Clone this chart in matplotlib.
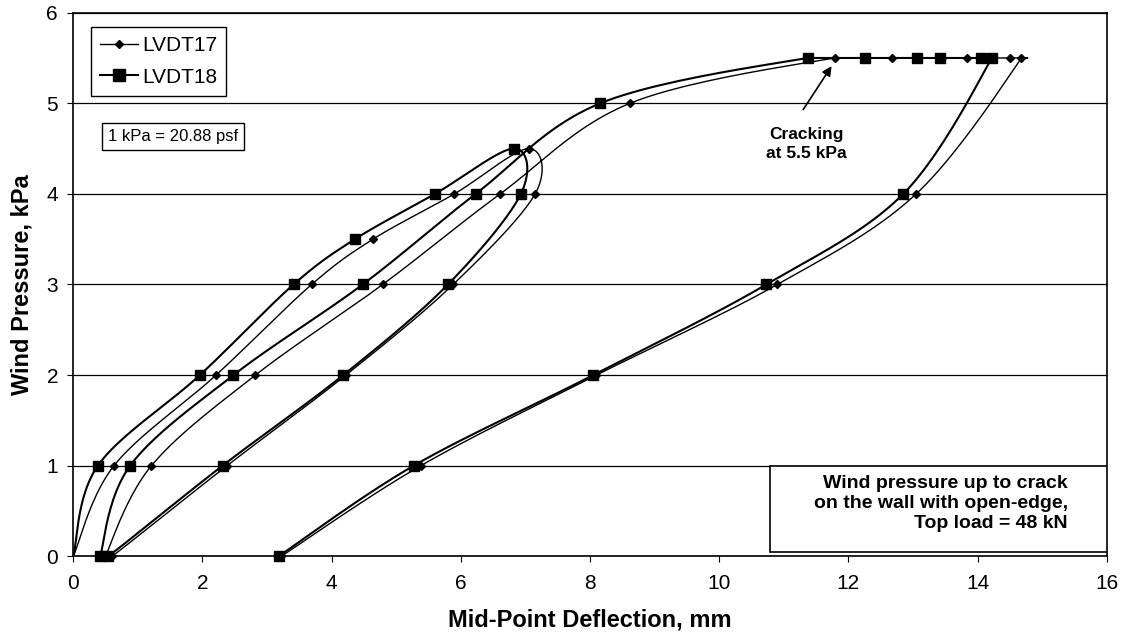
import numpy as np
import matplotlib
matplotlib.use("Agg")
from matplotlib import pyplot as plt
from matplotlib.lines import Line2D
from matplotlib.patches import Rectangle

plt.rcParams['font.family'] = ['Liberation Sans', 'DejaVu Sans']

# load history: cycle 1 up to 4.5 kPa and back, cycle 2 up to cracking and back
pressure = [0, 1, 2, 3, 3.5, 4, 4.5, 4, 3, 2, 1, 0,
            0, 1, 2, 3, 4, 5, 5.5, 5.5, 5.5, 5.5, 5.5, 5.5, 4, 3, 2, 1, 0]
lvdt17 = [0.00, 0.63, 2.21, 3.69, 4.64, 5.90, 7.05, 7.15, 5.88, 4.22, 2.38, 0.60,
          0.50, 1.21, 2.82, 4.79, 6.61, 8.62, 11.79, 12.67, 13.45, 13.83, 14.50, 14.68,
          13.05, 10.90, 8.10, 5.38, 3.22]
lvdt18 = [0.00, 0.38, 1.96, 3.41, 4.36, 5.60, 6.82, 6.93, 5.80, 4.18, 2.31, 0.54,
          0.42, 0.88, 2.48, 4.48, 6.23, 8.16, 11.37, 12.26, 13.07, 13.42, 14.05, 14.22,
          12.85, 10.73, 8.05, 5.27, 3.18]

def smooth(x, y, n=25):
    # excel-style smoothed line (bezier through the points), flat runs kept flat
    pts = np.column_stack([x, y]).astype(float)
    out = [pts[0]]
    t = np.linspace(0, 1, n)[1:, None]
    for i in range(len(pts) - 1):
        p0 = pts[i - 1] if i > 0 else pts[i]
        p1 = pts[i]
        p2 = pts[i + 1]
        p3 = pts[i + 2] if i + 2 < len(pts) else pts[i + 1]
        c1 = p1 + (p2 - p0) / 6
        c2 = p2 - (p3 - p1) / 6
        if p1[1] == p2[1] and p1[1] != 0:
            c1[1] = p1[1]
            c2[1] = p1[1]
        seg = (1-t)**3*p1 + 3*(1-t)**2*t*c1 + 3*(1-t)*t**2*c2 + t**3*p2
        out.extend(seg)
    out = np.array(out)
    return out[:, 0], out[:, 1]

fig = plt.figure(figsize=(11.26, 6.4), dpi=100)
ax = fig.add_axes([0.0651, 0.1308, 0.9178, 0.8494])

sx, sy = smooth(lvdt17, pressure)
ax.plot(sx, sy, color='k', lw=1.0, zorder=3)
ax.plot(lvdt17, pressure, ls='none', marker='D', ms=4, color='k', zorder=4,
        markevery=slice(1, None), clip_on=False)

sx, sy = smooth(lvdt18, pressure)
ax.plot(sx, sy, color='k', lw=1.5, zorder=3)
ax.plot(lvdt18, pressure, ls='none', marker='s', ms=7, color='k', zorder=4,
        markevery=slice(1, None), clip_on=False)

ax.set_xlim(0, 16)
ax.set_ylim(0, 6)
ax.set_xticks(range(0, 17, 2))
ax.set_yticks(range(0, 7))
ax.yaxis.grid(True, color='k', lw=0.9)
ax.set_axisbelow(True)
ax.tick_params(axis='x', direction='out', length=4, pad=9, labelsize=15)
ax.tick_params(axis='y', direction='out', length=4, pad=7, labelsize=15)
for s in ax.spines.values():
    s.set_color('k')
    s.set_linewidth(1.2)

ax.set_xlabel('Mid-Point Deflection, mm', fontsize=17, fontweight='bold', labelpad=11)
ax.set_ylabel('Wind Pressure, kPa', fontsize=17, fontweight='bold', labelpad=9)

handles = [Line2D([], [], color='k', lw=1.0, marker='D', ms=4),
           Line2D([], [], color='k', lw=1.5, marker='s', ms=8)]
leg = ax.legend(handles, ['LVDT17', 'LVDT18'], loc='upper left',
                bbox_to_anchor=(0.017, 0.974), borderaxespad=0, fontsize=15,
                fancybox=False, framealpha=1, edgecolor='k', handlelength=1.8,
                handletextpad=0.2, labelspacing=0.6, borderpad=0.45)
leg.get_frame().set_linewidth(1.0)

ax.text(1.54, 4.63, '1 kPa = 20.88 psf', fontsize=12, ha='center', va='center',
        bbox=dict(boxstyle='square,pad=0.35', fc='white', ec='k', lw=1.0))

ax.annotate('', xy=(11.74, 5.41), xytext=(11.3, 4.93),
            arrowprops=dict(arrowstyle='-|>', color='k', lw=1.2, mutation_scale=14,
                            shrinkA=0, shrinkB=0))
ax.text(11.35, 4.55, 'Cracking\nat 5.5 kPa', fontsize=12.5, fontweight='bold',
        ha='center', va='center', linespacing=1.3)

ax.add_patch(Rectangle((10.78, 0.05), 16 - 10.78, 0.95, fc='white', ec='k', lw=1.2, zorder=5))
ax.text(15.4, 0.585, 'Wind pressure up to crack\non the wall with open-edge,\nTop load = 48 kN',
        fontsize=14, fontweight='bold', ha='right', va='center', multialignment='right',
        linespacing=1.25, zorder=6)

fig.savefig('out.png', dpi=100)
